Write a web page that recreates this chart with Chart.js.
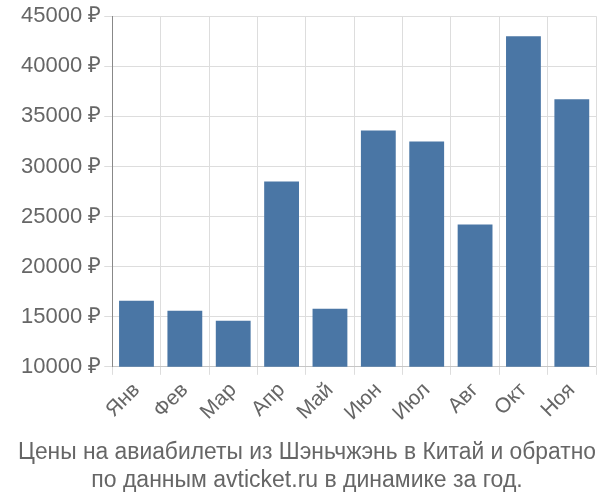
<!DOCTYPE html>
<html><head><meta charset="utf-8">
<script src="https://cdn.jsdelivr.net/npm/chart.js@4"></script>
<style>body{margin:0;background:#fff}#w{width:600px;height:500px}</style>
</head><body><div id="w"><canvas id="c"></canvas></div>
<script>
const categories=["Янв","Фев","Мар","Апр","Май","Июн","Июл","Авг","Окт","Ноя"];
const values=[16600,15600,14600,28500,15800,33600,32500,24200,43000,36700];
new Chart(document.getElementById('c'),{
type:'bar',
data:{labels:categories,datasets:[{data:values,backgroundColor:'#4a76a5',barPercentage:0.72,categoryPercentage:1}]},
options:{responsive:true,maintainAspectRatio:false,animation:false,
layout:{padding:{left:18,right:4,top:6,bottom:0}},
plugins:{legend:{display:false},tooltip:{enabled:false},
title:{display:true,position:'bottom',text:['Цены на авиабилеты из Шэньчжэнь в Китай и обратно','по данным avticket.ru в динамике за год.'],color:'#666',font:{family:'Liberation Sans, Arial',size:23,weight:'normal'},lineHeight:1.3,padding:{top:10,bottom:6}}},
scales:{
x:{grid:{color:'#ddd',offset:true},ticks:{color:'#666',font:{family:'Liberation Sans, Arial',size:21},maxRotation:45,minRotation:45}},
y:{min:10000,max:45000,border:{color:'#888'},grid:{color:'#ddd'},ticks:{stepSize:5000,color:'#666',font:{family:'Liberation Sans, Arial',size:22},callback:v=>v+' ₽'}}
}}});
</script></body></html>
